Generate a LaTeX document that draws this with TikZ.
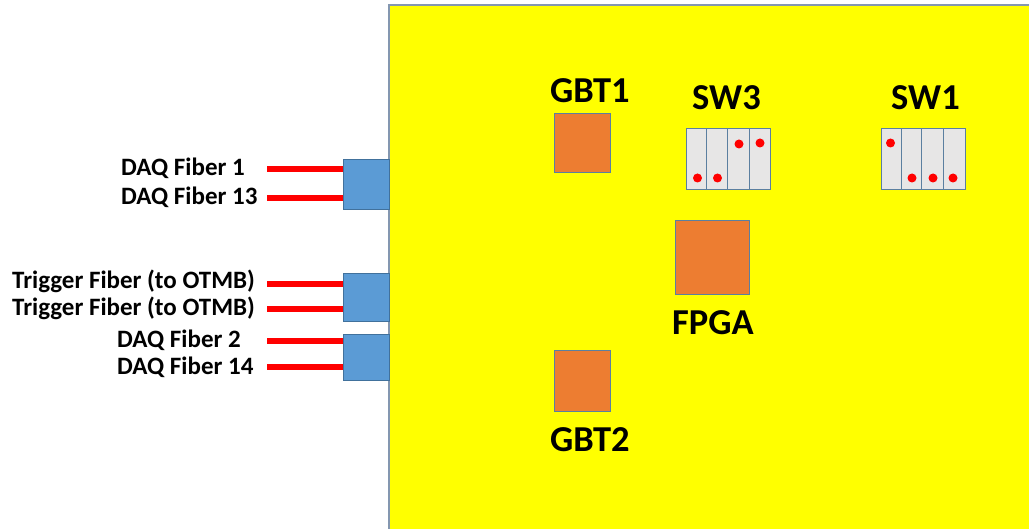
\documentclass[tikz,border=0pt]{standalone}
\usepackage{fontspec}
\setmainfont{Carlito}
\definecolor{boardyellow}{HTML}{FFFF00}
\definecolor{boardedge}{HTML}{8497B0}
\definecolor{chiporange}{HTML}{ED7D31}
\definecolor{chipedge}{HTML}{5B7FA0}
\definecolor{connblue}{HTML}{5B9BD5}
\definecolor{connedge}{HTML}{41719C}
\definecolor{swgray}{HTML}{E7E6E6}
\definecolor{swedge}{HTML}{5B7FA0}
\definecolor{fiberred}{HTML}{FF0000}
\tikzset{
  chip/.style={draw=chipedge, fill=chiporange, line width=0.8pt},
  conn/.style={draw=connedge, fill=connblue, line width=0.8pt, rectangle, inner sep=0pt, minimum width=46pt},
  swcell/.style={draw=swedge, fill=swgray, line width=0.9pt},
  swdot/.style={fill=fiberred, draw=none},
  fiber/.style={draw=fiberred, line width=6.5pt},
  smalllbl/.style={anchor=base west, inner sep=0pt, font=\fontsize{25}{30}\selectfont\bfseries},
  biglbl/.style={anchor=base west, inner sep=0pt, font=\fontsize{36.5}{42}\selectfont\bfseries},
}
\begin{document}
\begin{tikzpicture}[x=1pt,y=-1pt]
\path[use as bounding box, fill=white] (0,0) rectangle (1029,529);
% board
\path[fill=boardyellow, draw=boardedge, line width=1.2pt] (389,5) rectangle (1035,535);
% connectors
\node[conn, minimum height=50pt] (c1) at (366,184) {};
\node[conn, minimum height=48pt] (c2) at (366,297) {};
\node[conn, minimum height=46pt] (c3) at (366,357) {};
\coordinate (c1a) at (c1.west |- 0,169); \coordinate (c1b) at (c1.west |- 0,198);
\coordinate (c2a) at (c2.west |- 0,284); \coordinate (c2b) at (c2.west |- 0,309);
\coordinate (c3a) at (c3.west |- 0,341); \coordinate (c3b) at (c3.west |- 0,367);
\coordinate (f1a) at (267,169); \coordinate (f1b) at (267,198);
\coordinate (f2a) at (267,284); \coordinate (f2b) at (267,309);
\coordinate (f3a) at (267,341); \coordinate (f3b) at (267,367);
\foreach \a/\b in {f1a/c1a,f1b/c1b,f2a/c2a,f2b/c2b,f3a/c3a,f3b/c3b}
  \draw[fiber] (\a) -- (\b);
% fiber labels
\node[smalllbl] (l1) at (121,176) {DAQ Fiber 1};
\node[smalllbl] (l2) at (121,205) {DAQ Fiber 13};
\node[smalllbl] (l3) at (12,289) {Trigger Fiber (to OTMB)};
\node[smalllbl] (l4) at (12,316) {Trigger Fiber (to OTMB)};
\node[smalllbl] (l5) at (117,348) {DAQ Fiber 2};
\node[smalllbl] (l6) at (117,375) {DAQ Fiber 14};
% chips
\path[chip] (554,113) rectangle (610,172);
\path[chip] (554,350) rectangle (610,411);
\path[chip] (675,220) rectangle (749,294);
\node[biglbl] (gbt1) at (550,103) {GBT1};
\node[biglbl] (gbt2) at (550,451) {GBT2};
\node[biglbl] (fpga) at (672,335) {FPGA};
\node[biglbl] (sw3) at (692,110) {SW3};
\node[biglbl] (sw1) at (891,110) {SW1};
% SW3
\path[swcell] (686,128) rectangle (706,189);
\path[swcell] (706,128) rectangle (727,189);
\path[swcell] (727,128) rectangle (749,189);
\path[swcell] (749,128) rectangle (770,189);
\fill[swdot] (697.5,178) circle (4.5);
\fill[swdot] (717.5,178) circle (4.5);
\fill[swdot] (739,144) circle (4.5);
\fill[swdot] (760,143) circle (4.5);
% SW1
\path[swcell] (881,128) rectangle (901,189);
\path[swcell] (901,128) rectangle (921,189);
\path[swcell] (921,128) rectangle (943,189);
\path[swcell] (943,128) rectangle (965,189);
\fill[swdot] (890.5,143) circle (4.5);
\fill[swdot] (912,178) circle (4.5);
\fill[swdot] (933,178) circle (4.5);
\fill[swdot] (953,178) circle (4.5);
\end{tikzpicture}
\end{document}
